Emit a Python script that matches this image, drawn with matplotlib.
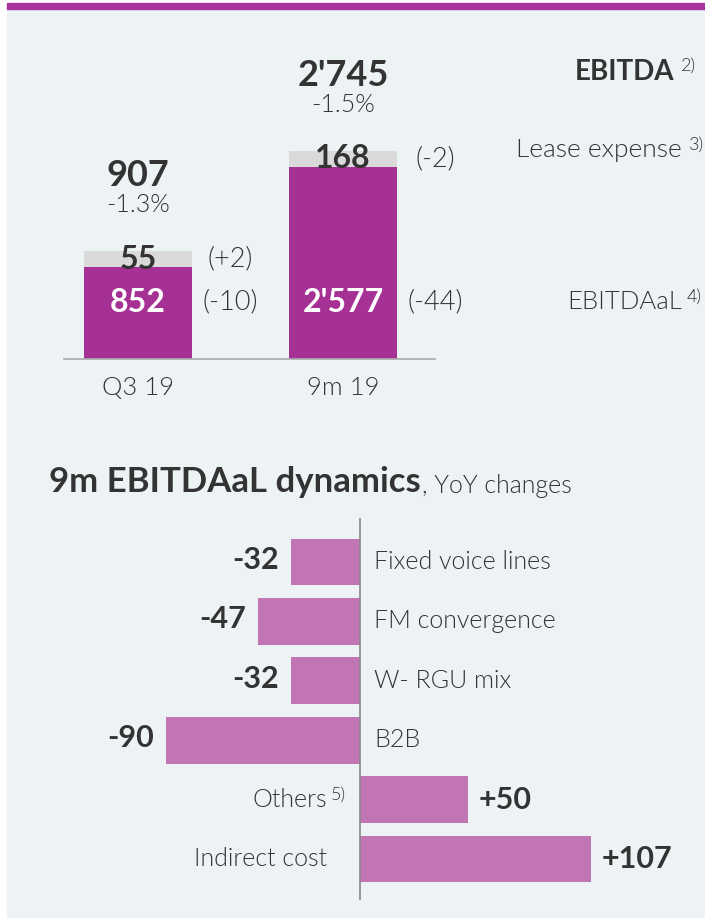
import numpy as np
import matplotlib.pyplot as plt
from matplotlib.patches import Rectangle

plt.rcParams['font.family'] = ['Lato', 'DejaVu Sans']

# top chart data
periods = ["Q3 19", "9m 19"]
ebitdaal = [852, 2577]
lease = [55, 168]
ebitda = [907, 2745]
ebitda_chg = [-1.3, -1.5]
lease_delta = ["(+2)", "(-2)"]
ebitdaal_delta = ["(-10)", "(-44)"]

# bottom chart data
drivers = ["Fixed voice lines", "FM convergence", "W- RGU mix", "B2B", "Others", "Indirect cost"]
driver_notes = ["", "", "", "", "5)", ""]
driver_chg = [-32, -47, -32, -90, 50, 107]

# colours
purple = "#A63195"
light_purple = "#C175B5"
cap_gray = "#DADADA"
bg = "#EDF2F5"
txt = "#333333"
light = 300  # regular text weight

W, H = 705, 918
fig = plt.figure(figsize=(W / 100, H / 100), dpi=100, facecolor="white")

def fx(px):
    return px / W

def fy(py):
    return 1 - py / H

# panel + top rule
fig.patches.append(Rectangle((fx(7), fy(917)), 1 - fx(7), fy(10) - fy(917),
                             transform=fig.transFigure, color=bg, zorder=-5))
fig.patches.append(Rectangle((fx(7), fy(9)), 1 - fx(7), fy(3) - fy(9),
                             transform=fig.transFigure, color="#A8339A", zorder=-4))

def fmt(v):
    return f"{v:,}".replace(",", "'")

# ---------- top: stacked bars ----------
p = 0.665
fwd = lambda y: np.sign(y) * np.abs(y) ** p
inv = lambda y: np.sign(y) * np.abs(y) ** (1 / p)

ax1 = fig.add_axes([fx(64), fy(359), fx(435) - fx(64), fy(40) - fy(359)])
ax1.set_facecolor("none")
ax1.set_yscale("function", functions=(fwd, inv))
px_per = 192 / fwd(max(ebitdaal))
ax1.set_ylim(0, inv((359 - 40) / px_per))
ax1.set_xlim(-0.361, 1.449)

x = np.arange(len(periods))
bw = 0.527
ax1.bar(x, ebitdaal, width=bw, color=purple, zorder=2)
cap_top = [inv(fwd(v) + 16 / px_per) for v in ebitdaal]
ax1.bar(x, np.array(cap_top) - np.array(ebitdaal), bottom=ebitdaal, width=bw,
        color=cap_gray, zorder=2)

for s in ["top", "right", "left"]:
    ax1.spines[s].set_visible(False)
ax1.spines["bottom"].set_color("#AAAAAA")
ax1.spines["bottom"].set_linewidth(1.2)
ax1.set_yticks([])
ax1.set_xticks(x, periods, fontweight=light)
ax1.tick_params(axis="x", length=0, pad=12, labelsize=18.5, labelcolor=txt)

for i in range(len(periods)):
    mid = inv((fwd(ebitdaal[i]) + fwd(cap_top[i])) / 2)
    ax1.text(x[i], mid, str(lease[i]), ha="center", va="center",
             fontsize=23, fontweight="bold", color=txt, zorder=3)
    ax1.annotate(fmt(ebitdaal[i]), (x[i], 0), xytext=(0, 57), textcoords="offset pixels",
                 ha="center", va="center", fontsize=23, fontweight="bold", color="white", zorder=3)
    ax1.annotate(ebitdaal_delta[i], (x[i] + 0.45, 0), xytext=(0, 57), textcoords="offset pixels",
                 ha="center", va="center", fontsize=19.5, fontweight=light, color=txt)
    ax1.text(x[i] + 0.45, mid, lease_delta[i], ha="center", va="center", fontsize=19.5,
             fontweight=light, color=txt)
    ax1.annotate(f"{ebitda_chg[i]:.1f}%", (x[i], cap_top[i]), xytext=(0, 46),
                 textcoords="offset pixels", ha="center", va="center", fontsize=18,
                 fontweight=light, color=txt)
    ax1.annotate(fmt(ebitda[i]), (x[i], cap_top[i]), xytext=(0, 76),
                 textcoords="offset pixels", ha="center", va="center", fontsize=26,
                 fontweight="bold", color=txt)

# series labels on the right
def label_with_note(xr, yc, label, note, weight=light, size=19, gap=7):
    t = fig.text(fx(xr), fy(yc), label, ha="right", va="center", fontsize=size,
                 fontweight=weight, color=txt)
    ax1.annotate(note, xy=(1, 1), xycoords=t, xytext=(gap, 1), textcoords="offset pixels",
                 ha="left", va="top", fontsize=13, fontweight=light, color=txt,
                 annotation_clip=False)

label_with_note(674, 72, "EBITDA", "2)", weight="bold", size=20)
label_with_note(682, 150, "Lease expense", "3)")
label_with_note(682, 302, "EBITDAaL", "4)", size=18.5, gap=5)

# ---------- bottom: YoY dynamics ----------
t1 = fig.text(fx(49), fy(482), "9m EBITDAaL dynamics", ha="left", va="center",
              fontsize=25, fontweight="bold", color=txt)
ax1.annotate(", YoY changes", xy=(1, 0), xycoords=t1, xytext=(1, 0), textcoords="offset pixels",
             ha="left", va="bottom", fontsize=18, fontweight=light, color=txt,
             annotation_clip=False)

ax2 = fig.add_axes([fx(7), fy(900), 1 - fx(7), fy(518) - fy(900)])
ax2.set_facecolor("none")
y = np.arange(len(drivers))
ax2.barh(y, driver_chg, height=0.79, color=light_purple, zorder=2)
ax2.axvline(0, color="#888888", lw=1.2, zorder=3)
ax2.set_xlim(-(360 - 7) / 2.16, (705 - 360) / 2.16)
ax2.set_ylim(5.69, -0.741)
ax2.axis("off")

for i, v in enumerate(driver_chg):
    if v < 0:
        ax2.annotate(f"{v:+d}", (v, i), xytext=(-12, 2), textcoords="offset pixels",
                     ha="right", va="center", fontsize=22, fontweight="bold", color=txt)
        ax2.annotate(drivers[i], (0, i), xytext=(14, 0), textcoords="offset pixels",
                     ha="left", va="center", fontsize=18, fontweight=light, color=txt)
    else:
        ax2.annotate(f"{v:+d}", (v, i), xytext=(11, 0), textcoords="offset pixels",
                     ha="left", va="center", fontsize=22, fontweight="bold", color=txt)
        t = ax2.annotate(drivers[i], (0, i), xytext=(-33, 0), textcoords="offset pixels",
                         ha="right", va="center", fontsize=18, fontweight=light, color=txt)
        if driver_notes[i]:
            ax2.annotate(driver_notes[i], xy=(1, 1), xycoords=t, xytext=(4, 1),
                         textcoords="offset pixels", ha="left", va="top", fontsize=13,
                         fontweight=light, color=txt, annotation_clip=False)

fig.savefig("out.png", dpi=100, facecolor="white")
